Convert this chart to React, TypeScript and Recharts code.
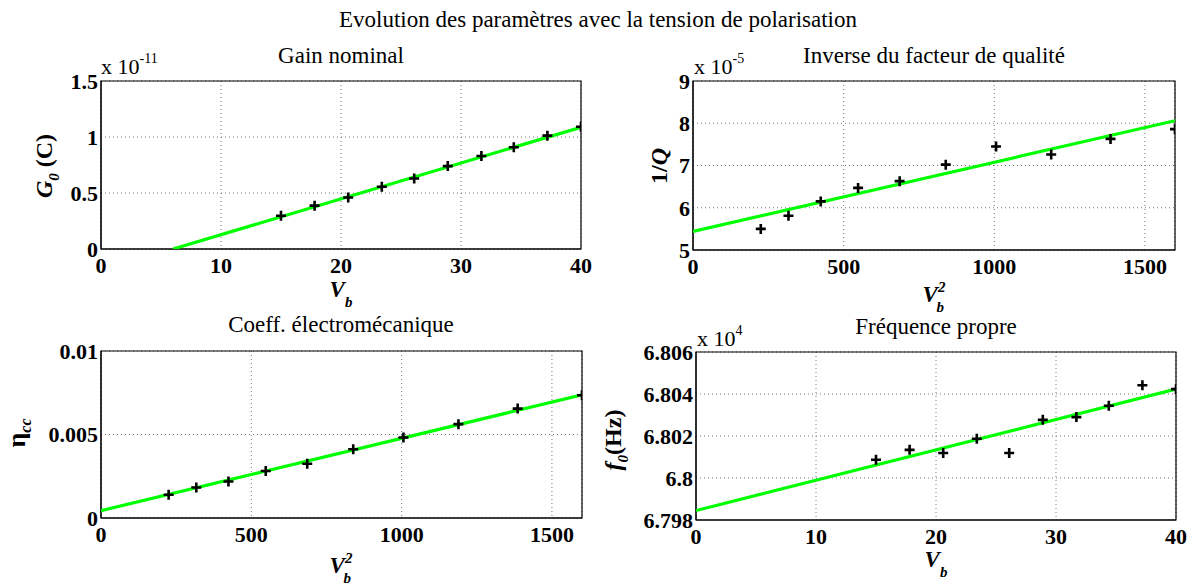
import React from 'react';
import { ComposedChart, XAxis, YAxis, CartesianGrid, Scatter, ReferenceArea } from 'recharts';

// Bias voltage and its square
const vb = [15, 17.8, 20.6, 23.4, 26.1, 28.9, 31.7, 34.4, 37.2, 40];
const vb2 = [225, 317, 424, 548, 686, 839, 1006, 1189, 1386, 1600];

// Measured parameters (axis units: x1e-11, x1e-5, raw, x1e4)
const gain = [0.297, 0.387, 0.46, 0.556, 0.63, 0.74, 0.83, 0.908, 1.012, 1.092];
const invQ = [5.5, 5.81, 6.15, 6.47, 6.63, 7.02, 7.45, 7.26, 7.63, 7.86];
const eta = [0.00139, 0.00183, 0.00219, 0.00281, 0.00325, 0.00412, 0.00482, 0.00562, 0.00655, 0.00735];
const freq = [6.80087, 6.80134, 6.80119, 6.80187, 6.80119, 6.80277, 6.8029, 6.80344, 6.80442, 6.80423];

// Linear fits (end points)
const gainFitX = [6, 40];
const gainFitY = [0, 1.087];
const invQFitX = [0, 1600];
const invQFitY = [5.44, 8.06];
const etaFitX = [0, 1600];
const etaFitY = [0.00044, 0.00737];
const freqFitX = [0, 40];
const freqFitY = [6.79845, 6.80423];

// Tick values
const vbTicks = [0, 10, 20, 30, 40];
const vb2Ticks = [0, 500, 1000, 1500];
const gainTicks = [0, 0.5, 1, 1.5];
const invQTicks = [5, 6, 7, 8, 9];
const etaTicks = [0, 0.005, 0.01];
const freqTicks = [6.798, 6.8, 6.802, 6.804, 6.806];

const SERIF = "'Liberation Serif', 'DejaVu Serif', 'Noto Serif', Tinos, FreeSerif, Times, 'Times New Roman', serif";
const YW = 70;
const TOPM = 20;
const RM = 25;
const XH = 40;

const zip = (xs: number[], ys: number[]) => xs.map((x, i) => ({ x, y: ys[i] }));

const Cross = (props: any) => {
  const { cx, cy } = props;
  if (cx == null || cy == null) return null;
  return (
    <path
      d={`M${cx - 5},${cy}h10M${cx},${cy - 5}v10`}
      stroke="#000"
      strokeWidth={2.6}
      fill="none"
    />
  );
};

const NoShape = () => null;

const fmt = (v: number) => String(Number(v.toFixed(4)));

type PanelProps = {
  left: number;
  top: number;
  plotW: number;
  plotH: number;
  xDomain: [number, number];
  xTicks: number[];
  yDomain: [number, number];
  yTicks: number[];
  points: { x: number; y: number }[];
  fit: { x: number; y: number }[];
};

const tickStyle = { style: { fontFamily: SERIF }, fontWeight: 'bold' as const, fontSize: 22, fill: '#000' };

function Panel(p: PanelProps) {
  const w = YW + p.plotW + RM;
  const h = TOPM + p.plotH + XH;
  return (
    <div style={{ position: 'absolute', left: p.left - YW, top: p.top - TOPM, width: w, height: h, fontFamily: SERIF }}>
      <ComposedChart width={w} height={h} margin={{ top: TOPM, right: RM, left: 0, bottom: 0 }}>
        <CartesianGrid stroke="#777" strokeDasharray="1 3" />
        <XAxis
          type="number"
          dataKey="x"
          domain={p.xDomain}
          ticks={p.xTicks}
          interval={0}
          allowDataOverflow
          height={XH}
          tickSize={0}
          tickMargin={8}
          tickLine={false}
          axisLine={{ stroke: '#000' }}
          tick={tickStyle}
          tickFormatter={fmt}
        />
        <YAxis
          type="number"
          dataKey="y"
          domain={p.yDomain}
          ticks={p.yTicks}
          interval={0}
          allowDataOverflow
          width={YW}
          tickSize={0}
          tickMargin={3}
          tickLine={false}
          axisLine={{ stroke: '#000' }}
          tick={tickStyle}
          tickFormatter={fmt}
        />
        <Scatter
          data={p.fit}
          line={{ stroke: '#00ff00', strokeWidth: 3.2 }}
          shape={NoShape}
          isAnimationActive={false}
        />
        <Scatter data={p.points} shape={Cross} isAnimationActive={false} />
        <ReferenceArea
          x1={p.xDomain[0]}
          x2={p.xDomain[1]}
          y1={p.yDomain[0]}
          y2={p.yDomain[1]}
          fill="none"
          fillOpacity={0}
          stroke="#000"
          strokeWidth={1.2}
        />
      </ComposedChart>
    </div>
  );
}

const txt = { fontFamily: SERIF };

function Exponent({ x, y, exp }: { x: number; y: number; exp: string }) {
  return (
    <text x={x} y={y} style={txt} fontSize={22} fill="#000">
      x 10
      <tspan dy={-11} fontSize={14}>
        {exp}
      </tspan>
    </text>
  );
}

function VbLabel({ cx, y, squared }: { cx: number; y: number; squared: boolean }) {
  return (
    <text x={cx} y={y} textAnchor="middle" style={txt} fontSize={23} fontWeight="bold" fontStyle="italic" fill="#000">
      V
      {squared ? (
        <>
          <tspan dy={-10} fontSize={15}>2</tspan>
          <tspan dx={-9} dy={20} fontSize={15}>b</tspan>
        </>
      ) : (
        <tspan dy={10} fontSize={15}>b</tspan>
      )}
    </text>
  );
}

export default function App() {
  const titleStyle = { style: txt, fontSize: 23, fill: '#000' };
  return (
    <div style={{ position: 'absolute', left: 0, top: 0, width: 1197, height: 588, background: '#fff', fontFamily: SERIF }}>
      <Panel left={101} top={81} plotW={480} plotH={168} xDomain={[0, 40]} xTicks={vbTicks} yDomain={[0, 1.5]} yTicks={gainTicks} points={zip(vb, gain)} fit={zip(gainFitX, gainFitY)} />
      <Panel left={693} top={81} plotW={482} plotH={169} xDomain={[0, 1600]} xTicks={vb2Ticks} yDomain={[5, 9]} yTicks={invQTicks} points={zip(vb2, invQ)} fit={zip(invQFitX, invQFitY)} />
      <Panel left={101} top={351} plotW={481} plotH={167} xDomain={[0, 1600]} xTicks={vb2Ticks} yDomain={[0, 0.01]} yTicks={etaTicks} points={zip(vb2, eta)} fit={zip(etaFitX, etaFitY)} />
      <Panel left={696} top={352} plotW={480} plotH={168} xDomain={[0, 40]} xTicks={vbTicks} yDomain={[6.798, 6.806]} yTicks={freqTicks} points={zip(vb, freq)} fit={zip(freqFitX, freqFitY)} />
      <svg width={1197} height={588} style={{ position: 'absolute', left: 0, top: 0, pointerEvents: 'none' }}>
        <text x={598} y={27} textAnchor="middle" {...titleStyle}>
          Evolution des paramètres avec la tension de polarisation
        </text>
        <text x={341} y={63} textAnchor="middle" {...titleStyle}>Gain nominal</text>
        <text x={934} y={63} textAnchor="middle" {...titleStyle}>Inverse du facteur de qualité</text>
        <text x={341} y={332} textAnchor="middle" {...titleStyle}>Coeff. électromécanique</text>
        <text x={936} y={334} textAnchor="middle" {...titleStyle}>Fréquence propre</text>

        <Exponent x={101} y={74} exp="-11" />
        <Exponent x={694} y={74} exp="-5" />
        <Exponent x={697} y={346} exp="4" />

        <VbLabel cx={341} y={297} squared={false} />
        <VbLabel cx={934} y={302} squared={true} />
        <VbLabel cx={341} y={573} squared={true} />
        <VbLabel cx={936} y={567} squared={false} />

        <text transform="translate(52,166) rotate(-90)" textAnchor="middle" style={txt} fontSize={24} fontWeight="bold" fill="#000">
          <tspan fontStyle="italic">G</tspan>
          <tspan fontStyle="italic" fontSize={15} dy={7}>0</tspan>
          <tspan dy={-7}> (C)</tspan>
        </text>
        <text transform="translate(667,166) rotate(-90)" textAnchor="middle" style={txt} fontSize={24} fontWeight="bold" fill="#000">
          1/<tspan fontStyle="italic">Q</tspan>
        </text>
        <text transform="translate(25,433) rotate(-90)" textAnchor="middle" style={txt} fontSize={26} fontWeight="bold" fill="#000">
          η<tspan fontStyle="italic" fontSize={16} dy={6}>cc</tspan>
        </text>
        <text transform="translate(621,440) rotate(-90)" textAnchor="middle" style={txt} fontSize={24} fontWeight="bold" fill="#000">
          <tspan fontStyle="italic">f</tspan>
          <tspan fontStyle="italic" fontSize={15} dy={7}>0</tspan>
          <tspan dy={-7}>(Hz)</tspan>
        </text>
      </svg>
    </div>
  );
}
